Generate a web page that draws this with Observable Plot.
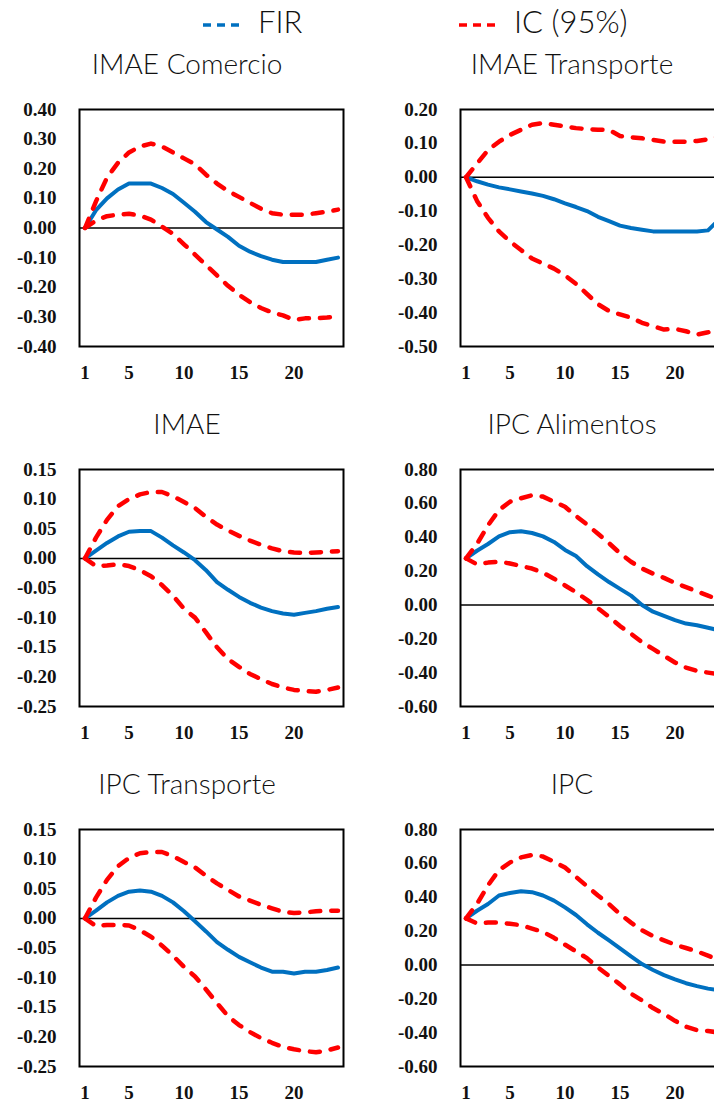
<!DOCTYPE html>
<html>
<head>
<meta charset="utf-8">
<script src="https://cdn.jsdelivr.net/npm/d3@7"></script>
<script src="https://cdn.jsdelivr.net/npm/@observablehq/plot@0.6"></script>
<style>
  html, body { margin: 0; padding: 0; background: #fff; }
  #root { position: relative; width: 714px; height: 1104px; overflow: hidden; background: #fff; }
  .title { position: absolute; font-family: Lato, "Open Sans", sans-serif; font-weight: 300; font-size: 28px; color: #111; white-space: nowrap; transform: translateX(-50%); line-height: 1; }
  .legend { position: absolute; font-family: Lato, "Open Sans", sans-serif; font-weight: 300; font-size: 31px; color: #111; white-space: nowrap; line-height: 1; display: flex; align-items: center; }
  .panel { position: absolute; }
</style>
</head>
<body>
<div id="root"></div>
<script>
// ---------- data ----------
const periods = [1,2,3,4,5,6,7,8,9,10,11,12,13,14,15,16,17,18,19,20,21,22,23,24];
const xTicks = [1, 5, 10, 15, 20];

// IMAE Comercio
const comercioFIR   = [0,0.06,0.10,0.13,0.15,0.15,0.15,0.135,0.115,0.085,0.055,0.02,-0.005,-0.03,-0.06,-0.08,-0.095,-0.107,-0.115,-0.115,-0.115,-0.115,-0.107,-0.10];
const comercioUpper = [0,0.09,0.17,0.22,0.255,0.275,0.285,0.275,0.255,0.235,0.215,0.18,0.15,0.125,0.105,0.085,0.065,0.05,0.045,0.045,0.045,0.05,0.055,0.062];
const comercioLower = [0,0.025,0.04,0.045,0.048,0.042,0.028,0.005,-0.02,-0.055,-0.09,-0.125,-0.16,-0.195,-0.225,-0.25,-0.27,-0.285,-0.295,-0.31,-0.305,-0.305,-0.302,-0.298];
const comercioTicks = [-0.4,-0.3,-0.2,-0.1,0,0.1,0.2,0.3,0.4];

// IMAE Transporte
const transporteFIR   = [0,-0.012,-0.022,-0.03,-0.036,-0.042,-0.048,-0.055,-0.065,-0.077,-0.088,-0.10,-0.117,-0.13,-0.143,-0.15,-0.155,-0.16,-0.16,-0.16,-0.16,-0.16,-0.157,-0.125];
const transporteUpper = [0,0.04,0.08,0.105,0.125,0.14,0.155,0.16,0.155,0.15,0.145,0.142,0.14,0.14,0.122,0.118,0.115,0.11,0.105,0.105,0.105,0.107,0.112,0.12];
const transporteLower = [0,-0.07,-0.12,-0.16,-0.19,-0.215,-0.24,-0.255,-0.27,-0.29,-0.315,-0.345,-0.375,-0.395,-0.405,-0.415,-0.43,-0.44,-0.45,-0.448,-0.455,-0.465,-0.458,-0.45];
const transporteTicks = [-0.5,-0.4,-0.3,-0.2,-0.1,0,0.1,0.2];

// IMAE
const imaeFIR   = [0,0.013,0.026,0.037,0.045,0.046,0.046,0.035,0.022,0.01,-0.003,-0.02,-0.04,-0.053,-0.065,-0.075,-0.083,-0.089,-0.093,-0.095,-0.092,-0.089,-0.085,-0.082];
const imaeUpper = [0,0.035,0.065,0.088,0.10,0.108,0.112,0.112,0.105,0.095,0.085,0.07,0.057,0.047,0.038,0.03,0.023,0.017,0.012,0.01,0.009,0.01,0.011,0.012];
const imaeLower = [0,-0.013,-0.012,-0.01,-0.013,-0.02,-0.03,-0.045,-0.063,-0.085,-0.10,-0.125,-0.15,-0.17,-0.183,-0.195,-0.204,-0.212,-0.218,-0.222,-0.224,-0.225,-0.222,-0.218];
const imaeTicks = [-0.25,-0.2,-0.15,-0.1,-0.05,0,0.05,0.1,0.15];

// IPC Alimentos
const alimentosFIR   = [0.275,0.32,0.36,0.405,0.43,0.435,0.425,0.405,0.372,0.325,0.289,0.229,0.18,0.135,0.095,0.055,0.0,-0.04,-0.065,-0.09,-0.11,-0.12,-0.135,-0.15];
const alimentosUpper = [0.275,0.36,0.47,0.56,0.61,0.63,0.648,0.64,0.61,0.58,0.525,0.475,0.42,0.365,0.305,0.255,0.215,0.185,0.16,0.13,0.105,0.08,0.055,0.03];
const alimentosLower = [0.275,0.24,0.25,0.255,0.245,0.23,0.215,0.19,0.155,0.115,0.075,0.03,-0.02,-0.07,-0.125,-0.17,-0.22,-0.26,-0.30,-0.34,-0.37,-0.39,-0.40,-0.41];
const alimentosTicks = [-0.6,-0.4,-0.2,0,0.2,0.4,0.6,0.8];

// IPC Transporte
const ipcTransFIR   = [0,0.013,0.027,0.038,0.045,0.047,0.045,0.038,0.027,0.012,-0.005,-0.022,-0.04,-0.053,-0.065,-0.074,-0.083,-0.09,-0.09,-0.093,-0.09,-0.09,-0.087,-0.083];
const ipcTransUpper = [0,0.035,0.065,0.088,0.102,0.11,0.112,0.112,0.105,0.095,0.086,0.072,0.059,0.048,0.037,0.03,0.023,0.017,0.011,0.009,0.01,0.012,0.013,0.013];
const ipcTransLower = [0,-0.013,-0.011,-0.011,-0.012,-0.02,-0.031,-0.046,-0.063,-0.082,-0.098,-0.12,-0.143,-0.165,-0.18,-0.192,-0.202,-0.21,-0.217,-0.221,-0.224,-0.226,-0.223,-0.218];
const ipcTransTicks = [-0.25,-0.2,-0.15,-0.1,-0.05,0,0.05,0.1,0.15];

// IPC
const ipcFIR   = [0.275,0.32,0.36,0.41,0.425,0.435,0.43,0.41,0.38,0.34,0.295,0.24,0.19,0.145,0.098,0.05,0.005,-0.03,-0.06,-0.085,-0.108,-0.125,-0.14,-0.15];
const ipcUpper = [0.275,0.36,0.47,0.56,0.605,0.635,0.65,0.64,0.61,0.575,0.52,0.465,0.41,0.36,0.30,0.25,0.205,0.17,0.145,0.12,0.10,0.08,0.055,0.03];
const ipcLower = [0.275,0.245,0.25,0.25,0.243,0.235,0.215,0.195,0.16,0.12,0.08,0.04,-0.015,-0.065,-0.115,-0.17,-0.21,-0.255,-0.29,-0.33,-0.365,-0.385,-0.39,-0.40];
const ipcTicks = [-0.6,-0.4,-0.2,0,0.2,0.4,0.6,0.8];

const titles = ["IMAE Comercio","IMAE Transporte","IMAE","IPC Alimentos","IPC Transporte","IPC"];
const legendLabels = ["FIR","IC (95%)"];

// ---------- layout ----------
const panels = [
  {fir: comercioFIR, upper: comercioUpper, lower: comercioLower, ticks: comercioTicks},
  {fir: transporteFIR, upper: transporteUpper, lower: transporteLower, ticks: transporteTicks},
  {fir: imaeFIR, upper: imaeUpper, lower: imaeLower, ticks: imaeTicks},
  {fir: alimentosFIR, upper: alimentosUpper, lower: alimentosLower, ticks: alimentosTicks},
  {fir: ipcTransFIR, upper: ipcTransUpper, lower: ipcTransLower, ticks: ipcTransTicks},
  {fir: ipcFIR, upper: ipcUpper, lower: ipcLower, ticks: ipcTicks}
];

const BLUE = "#0070C0", RED = "#FF0000";
const root = document.getElementById("root");
const colLeft = [0, 381];
const rowTop = [97, 457, 817];
const titleX = [187, 572];
const titleTop = [49, 409, 769];
const fmt = d => (Math.abs(d) < 1e-9 ? 0 : d).toFixed(2);

panels.forEach((p, k) => {
  const col = k % 2, row = Math.floor(k / 2);
  const data = periods.map((t, i) => ({t, fir: p.fir[i], up: p.upper[i], lo: p.lower[i]}));
  const chart = Plot.plot({
    width: 344,
    height: 12 + 237 + 40,
    marginLeft: 79, marginRight: 1, marginTop: 12, marginBottom: 40,
    style: {fontFamily: "'Liberation Serif', serif", fontSize: "19px", fontWeight: "bold", color: "#111", background: "transparent", overflow: "visible"},
    x: {domain: [0.5, 24.5], ticks: xTicks, tickFormat: d => String(d), tickSize: 0, tickPadding: 19, label: null},
    y: {domain: [p.ticks[0], p.ticks[p.ticks.length - 1]], ticks: p.ticks, tickFormat: fmt, tickSize: 0, tickPadding: 23, label: null},
    marks: [
      Plot.ruleY([0], {stroke: "black", strokeWidth: 1.5}),
      Plot.lineY(data, {x: "t", y: "fir", stroke: BLUE, strokeWidth: 4}),
      Plot.lineY(data, {x: "t", y: "up", stroke: RED, strokeWidth: 4.5, strokeDasharray: "10,11", strokeLinecap: "round"}),
      Plot.lineY(data, {x: "t", y: "lo", stroke: RED, strokeWidth: 4.5, strokeDasharray: "10,11", strokeLinecap: "round"}),
      Plot.frame({stroke: "black", strokeWidth: 2})
    ]
  });
  chart.classList.add("panel");
  chart.style.left = colLeft[col] + "px";
  chart.style.top = rowTop[row] + "px";
  root.appendChild(chart);

  const t = document.createElement("div");
  t.className = "title";
  t.textContent = titles[k];
  t.style.left = titleX[col] + "px";
  t.style.top = titleTop[row] + "px";
  root.appendChild(t);
});

// legend
const legendItems = [{label: legendLabels[0], color: BLUE, x: 203}, {label: legendLabels[1], color: RED, x: 459}];
legendItems.forEach(it => {
  const d = document.createElement("div");
  d.className = "legend";
  d.style.left = it.x + "px";
  d.style.top = "6px";
  const ns = "http://www.w3.org/2000/svg";
  const s = document.createElementNS(ns, "svg");
  s.setAttribute("width", 37); s.setAttribute("height", 30);
  s.style.marginRight = "18px";
  const l = document.createElementNS(ns, "line");
  l.setAttribute("x1", 0); l.setAttribute("x2", 37);
  l.setAttribute("y1", 18); l.setAttribute("y2", 18);
  l.setAttribute("stroke", it.color); l.setAttribute("stroke-width", 3.5);
  l.setAttribute("stroke-dasharray", "8,6");
  s.appendChild(l);
  d.appendChild(s);
  const sp = document.createElement("span");
  sp.textContent = it.label;
  d.appendChild(sp);
  root.appendChild(d);
});
</script>
</body>
</html>
